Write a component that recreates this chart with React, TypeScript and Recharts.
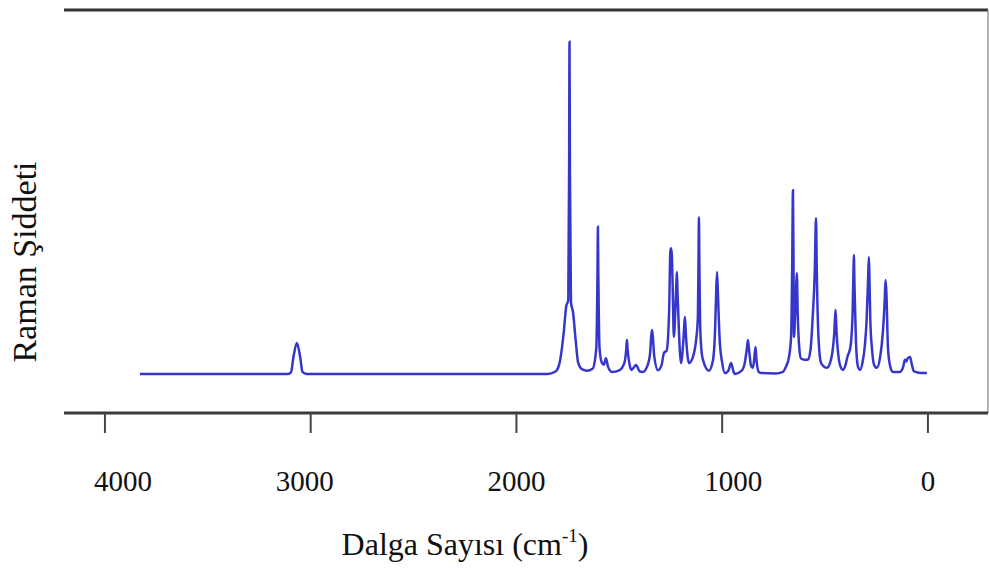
import React from "react";
import { LineChart, Line, XAxis, YAxis, ReferenceLine } from "recharts";

// Raman spectrum: [wavenumber cm-1, relative intensity]
const spectrum: [number, number][] = [
  [3830, 9.7], [3110, 9.7], [3095, 10.2], [3085, 13.5], [3067, 17.4], [3050, 13.5], [3040, 10.2], [3020, 9.7],
  [1850, 9.7], [1810, 10.3], [1790, 12.5], [1770, 20], [1758, 26.5], [1748, 28], [1744, 60], [1742, 92.1],
  [1740, 60], [1735, 27.5], [1725, 25], [1712, 18], [1700, 12.5], [1680, 10.8], [1657, 10.5],
  [1630, 11], [1612, 16], [1606, 35], [1604, 46.2], [1602, 35], [1596, 16], [1585, 12.5], [1575, 12],
  [1565, 13.6], [1555, 11.5], [1536, 10.2], [1500, 10.6], [1475, 12.5], [1466, 16], [1463, 18.1],
  [1460, 16], [1450, 12], [1440, 10.7], [1419, 11.9], [1400, 10.3], [1385, 10.2], [1365, 11.5],
  [1350, 15], [1345, 19], [1341, 20.6], [1337, 19], [1330, 14], [1312, 10.6], [1295, 11.8],
  [1283, 14.9], [1270, 15.5], [1258, 25], [1252, 40], [1249, 40.9], [1245, 39.5], [1240, 30],
  [1235, 18.9], [1228, 25], [1222, 33], [1220, 35], [1217, 30], [1210, 20], [1200, 12.4],
  [1190, 17], [1184, 22], [1181, 23.8], [1177, 20], [1168, 14], [1162, 12.4], [1145, 13.5],
  [1125, 18.9], [1118, 24], [1115, 38], [1113, 48.6], [1111, 38], [1106, 20], [1095, 13.5],
  [1064, 10.5], [1045, 13], [1035, 20], [1029, 30], [1025, 35], [1021, 30], [1012, 18], [1000, 12.5],
  [987, 9.9], [970, 10.5], [957, 12.4], [945, 10.3], [938, 9.7], [905, 10.5], [890, 12.5], [880, 16],
  [875, 18.1], [868, 15], [860, 11.8], [851, 11.2], [844, 13.5], [838, 16.4], [833, 13], [822, 10.2],
  [807, 9.9], [740, 9.8], [705, 10.2], [690, 11.5], [675, 14], [665, 19], [660, 35], [656, 55.3],
  [653, 35], [651, 18.9], [645, 25], [640, 32], [637, 34.7], [633, 25], [625, 16], [617, 13.5],
  [600, 13.2], [583, 13.2], [570, 16], [560, 23.8], [550, 35], [544, 48.4], [540, 35], [533, 20],
  [520, 12.5], [505, 11.5], [491, 11.2], [470, 13.5], [455, 20], [449, 25.6], [444, 20], [432, 13],
  [420, 11], [413, 10.7], [400, 12], [390, 14.2], [384, 14.9], [375, 17], [366, 25], [362, 35],
  [360, 39.2], [357, 32], [350, 18], [340, 11.5], [330, 10.7], [318, 12.5], [306, 17], [298, 23.1],
  [291, 33], [287, 38.7], [284, 33], [280, 23.1], [272, 16], [262, 12], [248, 11.2], [232, 14],
  [219, 20], [210, 28], [206, 33], [202, 30], [194, 16], [183, 11.5], [170, 10.2], [136, 10.2],
  [120, 11.5], [112, 13.2], [105, 12.8], [99, 13.5], [87, 13.9], [78, 12], [70, 10.5], [60, 10.2],
  [30, 9.9], [5, 9.9],
];

const xTicks = [0, 1000, 2000, 3000, 4000];
const yTicks = [38.5];
const xDomain: [number, number] = [-292, 4199];
const yDomain: [number, number] = [0, 100];

const SERIF = "'Liberation Serif', 'Times New Roman', Times, serif";

// the scanned labels are not exactly centred under their ticks
const labelNudge: Record<number, number> = { 4000: 18, 3000: -6, 1000: 11 };

function TickLabel(props: any) {
  const { x, y, payload } = props;
  const v = payload.value as number;
  return (
    <text x={x + (labelNudge[v] ?? 0)} y={y + 56} textAnchor="middle" fontFamily={SERIF} fontSize={29} fill="#111">
      {String(v)}
    </text>
  );
}

export default function App() {
  const data = spectrum.map(([wn, I]) => ({ wn, I }));
  return (
    <div style={{ position: "absolute", left: 0, top: 0, width: 989, height: 568, background: "#fff" }}>
      <LineChart width={989} height={568} data={data} margin={{ top: 10, right: 1, left: 64, bottom: 75 }}>
        <XAxis
          type="number"
          dataKey="wn"
          domain={xDomain}
          reversed
          allowDataOverflow
          ticks={xTicks}
          interval={0}
          height={80}
          tickSize={20}
          tickLine={{ stroke: "#444", strokeWidth: 2 }}
          axisLine={{ stroke: "#3a3a3a", strokeWidth: 3 }}
          tick={<TickLabel />}
        />
        <YAxis
          type="number"
          domain={yDomain}
          ticks={yTicks}
          width={0}
          tickSize={3}
          tickFormatter={() => ""}
          tickLine={{ stroke: "#444", strokeWidth: 2 }}
          axisLine={{ stroke: "#555", strokeWidth: 2 }}
        />
        <ReferenceLine y={yDomain[1]} stroke="#333" strokeWidth={3} />
        <ReferenceLine x={xDomain[0]} stroke="#999" strokeWidth={1.5} />
        <Line type="monotone" dataKey="I" stroke="#3636cc" strokeWidth={2.5} dot={false} isAnimationActive={false} />
      </LineChart>
      <svg width={989} height={568} style={{ position: "absolute", left: 0, top: 0, pointerEvents: "none" }}>
        <text x={465} y={555} textAnchor="middle" fontFamily={SERIF} fontSize={32} fill="#111">
          Dalga Sayısı (cm
          <tspan fontSize={19} dy={-13}>-1</tspan>
          <tspan dy={13}>)</tspan>
        </text>
        <text transform="translate(36, 262) rotate(-90)" textAnchor="middle" fontFamily={SERIF} fontSize={34} fill="#111">
          Raman Şiddeti
        </text>
      </svg>
    </div>
  );
}
